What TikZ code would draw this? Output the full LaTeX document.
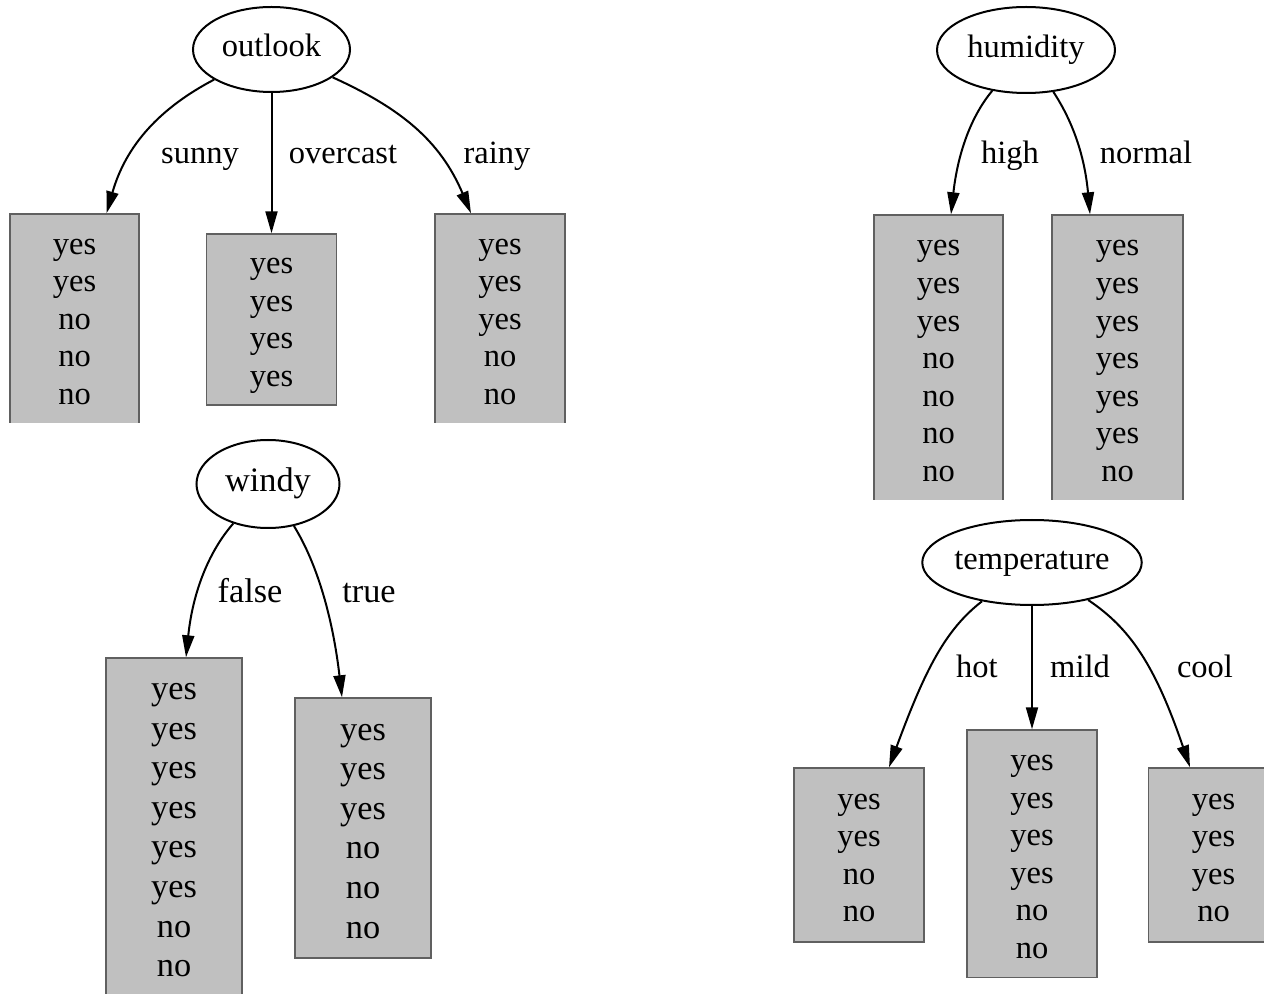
\documentclass[tikz,border=0pt]{standalone}
\usepackage{fontspec}
\setmainfont{Liberation Serif}
\usetikzlibrary{shapes.geometric,arrows.meta,calc}
\definecolor{leafgray}{RGB}{192,192,192}
\definecolor{leafborder}{RGB}{96,96,96}
\newcommand{\leaftop}{\rule{0pt}{0.86\baselineskip}}
\begin{document}
\begin{tikzpicture}[x=0.5pt,y=-0.5pt,
  attr/.style={ellipse,draw=black,line width=1pt,inner sep=0pt,text height=11pt,text depth=3.6pt,font=\fontsize{16.25}{18.75}\selectfont},
  bigattr/.style={attr,font=\fontsize{17.15}{19.8}\selectfont},
  leaf/.style={rectangle,draw=leafborder,fill=leafgray,line width=0.7pt,inner sep=0pt,align=center,font=\fontsize{16.25}{18.75}\selectfont},
  bigleaf/.style={leaf,font=\fontsize{17.15}{19.8}\selectfont},
  elabel/.style={anchor=base,inner sep=0pt,font=\fontsize{16.25}{18.75}\selectfont},
  bigelabel/.style={elabel,font=\fontsize{17.15}{19.8}\selectfont},
  edge/.style={line width=1pt,-{Triangle[length=11pt,width=6pt]}}
]
\useasboundingbox[fill=white] (0,0) rectangle (1264,994);

% ---------- outlook ----------
\node[attr,minimum width=78.5pt,minimum height=42.5pt] (outlook) at (271.5,49.5) {outlook};
\begin{scope}
  \clip (0,0) rectangle (1264,423);
  \node[leaf,minimum width=64.5pt,minimum height=105pt] (sunny) at (74.5,319) {\leaftop yes\\yes\\no\\no\\no\strut};
  \node[leaf,minimum width=65pt,minimum height=105pt] (rainy) at (500,319) {\leaftop yes\\yes\\yes\\no\\no\strut};
\end{scope}
\node[leaf,minimum width=65pt,minimum height=85.5pt] (overcast) at (271.5,319.5) {\leaftop yes\\yes\\yes\\yes\strut};
\draw[edge] (outlook) .. controls (160,108) and (126,145) .. ($(sunny.north)+(32,0)$);
\draw[edge] (outlook) -- (overcast);
\draw[edge] (outlook) .. controls (400,108) and (440,140) .. ($(rainy.north)+(-29,0)$);
\node[elabel] (lsunny) at (200,164) {sunny};
\node[elabel] (lovercast) at (343,164) {overcast};
\node[elabel] (lrainy) at (497,164) {rainy};

% ---------- humidity ----------
\node[attr,minimum width=89pt,minimum height=43pt] (humidity) at (1026,50) {humidity};
\begin{scope}
  \clip (0,0) rectangle (1264,500);
  \node[leaf,minimum width=64.5pt,minimum height=143pt] (high) at (938.5,358) {\leaftop yes\\yes\\yes\\no\\no\\no\\no\strut};
  \node[leaf,minimum width=65.5pt,minimum height=143pt] (normal) at (1117.5,358) {\leaftop yes\\yes\\yes\\yes\\yes\\yes\\no\strut};
\end{scope}
\draw[edge] (humidity) .. controls (968,120) and (957,160) .. ($(high.north)+(12.5,0)$);
\draw[edge] (humidity) .. controls (1075,125) and (1085,160) .. ($(normal.north)+(-27.5,0)$);
\node[elabel] (lhigh) at (1010,164) {high};
\node[elabel] (lnormal) at (1146,164) {normal};

% ---------- windy ----------
\node[bigattr,minimum width=71.5pt,minimum height=44pt] (windy) at (268,484) {windy};
\begin{scope}
  \clip (0,0) rectangle (1264,994);
  \node[bigleaf,minimum width=68pt,minimum height=169pt] (false) at (174,827) {\leaftop yes\\yes\\yes\\yes\\yes\\yes\\no\\no\strut};
\end{scope}
\node[bigleaf,minimum width=68pt,minimum height=130pt] (true) at (363,828) {\leaftop yes\\yes\\yes\\no\\no\\no\strut};
\draw[edge] (windy) .. controls (210,550) and (193,590) .. ($(false.north)+(12,0)$);
\draw[edge] (windy) .. controls (318,565) and (333,620) .. ($(true.north)+(-21,0)$);
\node[bigelabel] (lfalse) at (250,603) {false};
\node[bigelabel] (ltrue) at (369,603) {true};

% ---------- temperature ----------
\node[attr,minimum width=109pt,minimum height=42.5pt] (temperature) at (1032,562.5) {temperature};
\node[leaf,minimum width=65pt,minimum height=87pt] (hot) at (859,855) {\leaftop yes\\yes\\no\\no\strut};
\begin{scope}
  \clip (0,0) rectangle (1264,977.5);
  \node[leaf,minimum width=65pt,minimum height=124pt] (mild) at (1032,854) {\leaftop yes\\yes\\yes\\yes\\no\\no\strut};
\end{scope}
\begin{scope}
  \clip (0,0) rectangle (1264,994);
  \node[leaf,minimum width=65pt,minimum height=87pt] (cool) at (1213.5,855) {\leaftop yes\\yes\\yes\\no\strut};
\end{scope}
\draw[edge] (temperature) .. controls (945,630) and (925,670) .. ($(hot.north)+(30,0)$);
\draw[edge] (temperature) -- (mild);
\draw[edge] (temperature) .. controls (1130,628) and (1155,665) .. ($(cool.north)+(-23.5,0)$);
\node[elabel] (lhot) at (977,677) {hot};
\node[elabel] (lmild) at (1080,677) {mild};
\node[elabel] (lcool) at (1205,677) {cool};
\end{tikzpicture}
\end{document}
